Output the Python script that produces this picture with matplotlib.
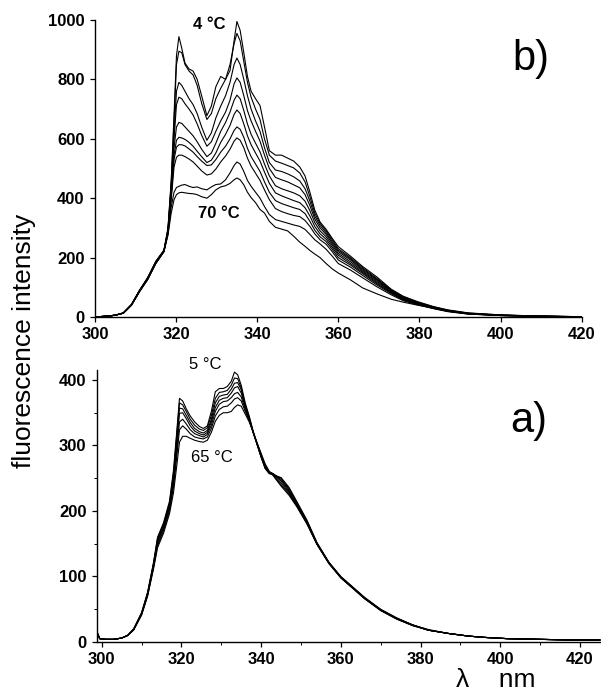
import matplotlib
matplotlib.use('Agg')
import matplotlib.pyplot as plt
from matplotlib.ticker import MultipleLocator

plt.rcParams['font.family'] = ['Liberation Sans', 'DejaVu Sans']

# Panel b): wavelength grid (nm) and spectra from 4 °C (top) to 70 °C (bottom)
wl_b = [300, 303, 305, 307, 309, 311, 313, 315, 317, 318,
        318.8, 319.5, 320.1, 320.7, 321.4, 322.2, 323.2, 324.2, 325.2, 326.3,
        327.6, 328.7, 329.8, 331, 332.2, 333.3, 334.3, 335, 335.8, 336.7,
        337.6, 338.5, 339.6, 340.7, 341.8, 343, 344.5, 346, 347.5, 349,
        350.5, 351.8, 353, 354.2, 355.5, 357, 358.5, 360, 363, 366,
        369.5, 373, 376, 379.5, 383.5, 387, 392, 400, 410, 420]

b_4C = [0, 3, 6, 14, 42, 90, 132, 188, 225, 300,
        460, 680, 880, 944, 905, 855, 835, 828, 800, 745,
        678, 710, 775, 810, 800, 830, 930, 995, 965, 890,
        810, 760, 735, 712, 640, 560, 545, 545, 535, 525,
        505, 475, 420, 360, 320, 295, 265, 237, 205, 170,
        135, 94, 70, 52, 35, 24, 14, 7, 3, 1]
b_t2 = [0, 3, 6, 13, 40, 88, 128, 185, 222, 295,
        450, 660, 850, 895, 890, 850, 828, 815, 780, 720,
        665, 685, 735, 770, 800, 850, 920, 955, 930, 860,
        790, 740, 700, 665, 600, 545, 525, 518, 510, 502,
        485, 455, 405, 350, 315, 290, 260, 230, 200, 166,
        130, 92, 68, 50, 34, 23, 13, 7, 3, 1]
b_t3 = [0, 3, 6, 13, 40, 86, 126, 182, 220, 290,
        440, 620, 760, 790, 780, 760, 735, 715, 685, 640,
        595, 620, 670, 710, 745, 790, 850, 872, 850, 800,
        745, 700, 660, 625, 570, 520, 495, 490, 482, 472,
        458, 432, 390, 340, 308, 284, 254, 225, 196, 162,
        127, 90, 66, 48, 33, 22, 12, 6, 3, 1]
b_t4 = [0, 3, 6, 14, 42, 90, 133, 186, 224, 292,
        430, 600, 715, 740, 735, 718, 700, 680, 650, 612,
        575, 590, 625, 660, 690, 730, 785, 805, 790, 745,
        695, 660, 625, 592, 545, 500, 470, 462, 455, 445,
        435, 412, 375, 330, 300, 278, 248, 220, 192, 158,
        124, 88, 64, 47, 32, 21, 12, 6, 3, 1]
b_t5 = [0, 3, 6, 13, 41, 88, 130, 184, 222, 288,
        420, 570, 640, 655, 652, 640, 625, 610, 590, 565,
        540, 552, 585, 625, 655, 690, 730, 747, 735, 695,
        650, 615, 585, 556, 515, 475, 442, 432, 425, 418,
        408, 390, 358, 318, 290, 270, 242, 214, 186, 154,
        120, 86, 62, 46, 31, 21, 11, 6, 2, 1]
b_t6 = [0, 3, 6, 13, 40, 86, 127, 180, 220, 285,
        410, 545, 595, 605, 603, 598, 588, 575, 558, 540,
        520, 528, 552, 588, 615, 645, 682, 697, 685, 650,
        610, 580, 552, 525, 488, 450, 418, 408, 400, 392,
        385, 368, 340, 305, 280, 262, 235, 208, 180, 150,
        116, 84, 60, 45, 30, 20, 11, 5, 2, 1]
b_t7 = [0, 3, 6, 14, 42, 90, 131, 185, 223, 286,
        405, 530, 572, 580, 580, 576, 566, 555, 540, 525,
        510, 512, 530, 555, 575, 600, 628, 640, 632, 605,
        568, 540, 515, 490, 455, 420, 392, 382, 375, 368,
        362, 348, 322, 292, 270, 254, 228, 200, 175, 146,
        112, 82, 59, 44, 30, 20, 11, 5, 2, 1]
b_t8 = [0, 3, 6, 13, 40, 87, 128, 182, 221, 283,
        395, 505, 538, 545, 545, 540, 532, 522, 508, 492,
        478, 482, 498, 522, 542, 565, 592, 603, 595, 570,
        535, 508, 484, 460, 428, 395, 365, 355, 348, 342,
        338, 325, 305, 280, 260, 245, 220, 192, 168, 140,
        108, 79, 57, 43, 29, 19, 10, 5, 2, 1]
b_t9 = [0, 3, 6, 13, 41, 88, 130, 184, 222, 280,
        370, 420, 436, 440, 444, 446, 440, 436, 438, 432,
        428, 438, 446, 448, 462, 485, 510, 522, 515, 490,
        460, 440, 420, 400, 372, 345, 328, 322, 316, 310,
        305, 295, 278, 260, 246, 228, 205, 180, 158, 132,
        102, 75, 55, 41, 28, 18, 10, 5, 2, 1]
b_70C = [0, 3, 6, 13, 40, 86, 127, 180, 220, 275,
         350, 395, 412, 418, 420, 418, 416, 415, 412, 405,
         400, 412, 428, 438, 442, 450, 462, 468, 462, 445,
         420, 402, 385, 362, 350, 322, 302, 296, 290, 272,
         252, 238, 224, 212, 200, 180, 162, 148, 125, 98,
         78, 60, 50, 40, 30, 21, 12, 6, 2, 1]
spectra_b = [b_4C, b_t2, b_t3, b_t4, b_t5, b_t6, b_t7, b_t8, b_t9, b_70C]

# Panel a): spectra from 5 °C (top) to 65 °C (bottom)
wl_a = [298.8, 299.5, 301, 303, 305, 306.5, 308, 310, 311.5, 313,
        314, 315.5, 317, 318, 318.8, 319.5, 320.3, 321.2, 322.2, 323.3,
        324.5, 325.5, 326.5, 327.5, 328.5, 329.5, 330.5, 331.5, 332.5, 333.3,
        334.1, 335, 336, 337, 338, 339, 340, 341, 342, 343,
        345, 347, 349, 351.5, 354, 357, 360, 363, 366, 370,
        374, 378, 382, 387, 392, 396, 402, 410, 418, 425]

a_5C = [16, 5, 4, 4, 6, 10, 20, 45, 76, 122,
        160, 182, 215, 262, 320, 372, 368, 356, 345, 336,
        329, 326, 330, 352, 382, 387, 387, 390, 398, 412,
        408, 392, 365, 345, 322, 302, 283, 265, 257, 255,
        251, 236, 214, 186, 152, 122, 100, 84, 68, 50,
        37, 26, 19, 13, 9, 7, 5, 4, 3, 3]
a_t2 = [15, 5, 4, 4, 6, 10, 20, 44, 75, 120,
        158, 180, 212, 258, 315, 365, 362, 352, 340, 331,
        325, 323, 327, 346, 372, 381, 382, 384, 392, 403,
        402, 388, 362, 343, 320, 301, 282, 265, 258, 256,
        250, 234, 212, 184, 150, 121, 99, 83, 67, 49,
        36, 26, 18, 13, 9, 7, 5, 4, 3, 3]
a_t3 = [15, 5, 4, 4, 6, 10, 19, 44, 74, 119,
        155, 178, 210, 252, 308, 357, 356, 346, 335, 326,
        321, 319, 323, 340, 365, 375, 377, 378, 386, 395,
        396, 385, 360, 342, 320, 301, 282, 266, 259, 257,
        248, 232, 211, 184, 151, 121, 99, 83, 67, 49,
        36, 26, 18, 13, 9, 7, 5, 4, 3, 3]
a_t4 = [14, 5, 4, 4, 6, 10, 19, 43, 73, 118,
        153, 176, 207, 248, 300, 349, 350, 341, 330, 322,
        318, 316, 320, 336, 358, 369, 372, 373, 380, 388,
        390, 380, 358, 341, 320, 302, 284, 268, 260, 257,
        246, 230, 209, 183, 150, 121, 99, 83, 67, 49,
        36, 26, 18, 13, 9, 7, 5, 4, 3, 3]
a_t5 = [14, 5, 4, 4, 6, 10, 19, 43, 72, 116,
        150, 173, 204, 243, 290, 336, 340, 333, 324, 318,
        315, 313, 317, 331, 352, 363, 367, 368, 373, 379,
        381, 374, 355, 340, 320, 302, 284, 268, 259, 256,
        243, 228, 208, 182, 150, 120, 98, 82, 66, 49,
        36, 26, 18, 13, 9, 7, 5, 4, 3, 3]
a_t6 = [13, 5, 4, 4, 6, 10, 19, 42, 71, 114,
        147, 170, 200, 237, 282, 324, 330, 325, 318, 313,
        311, 310, 313, 326, 345, 355, 359, 360, 365, 371,
        373, 368, 352, 338, 320, 303, 286, 270, 260, 255,
        240, 226, 207, 181, 149, 120, 98, 82, 66, 48,
        35, 25, 18, 13, 9, 7, 5, 4, 3, 3]
a_65C = [13, 5, 4, 4, 6, 10, 18, 41, 70, 112,
         144, 166, 196, 228, 268, 305, 314, 314, 311, 308,
         306, 305, 308, 320, 337, 346, 350, 350, 352, 358,
         362, 360, 348, 336, 320, 304, 288, 272, 261, 254,
         238, 224, 206, 180, 149, 120, 98, 82, 66, 48,
         35, 25, 18, 13, 9, 7, 5, 4, 3, 3]
spectra_a = [a_5C, a_t2, a_t3, a_t4, a_t5, a_t6, a_65C]

x_ticks = [300, 320, 340, 360, 380, 400, 420]
y_ticks_b = [0, 200, 400, 600, 800, 1000]
y_ticks_a = [0, 100, 200, 300, 400]


def style_axes(ax):
    """ Keep only the left and bottom spines, ticks pointing out """
    for side in ['top', 'right']:
        ax.spines[side].set_visible(False)
    for side in ['left', 'bottom']:
        ax.spines[side].set_linewidth(1.0)
    ax.tick_params(direction='out', length=3.5, width=0.9, pad=4, labelsize=12)
    ax.tick_params(which='minor', direction='out', length=2, width=0.7)
    for lab in ax.get_xticklabels() + ax.get_yticklabels():
        lab.set_fontweight('bold')


fig = plt.figure(figsize=(6.01, 6.92), dpi=100)

# Top panel b)
ax_b = fig.add_axes([0.158, 0.5419, 0.8098, 0.4292])
for spec in spectra_b:
    ax_b.plot(wl_b, spec, color='black', lw=0.8)
ax_b.set_xlim(300, 420)
ax_b.set_ylim(0, 1000)
ax_b.set_xticks(x_ticks)
ax_b.set_yticks(y_ticks_b)
style_axes(ax_b)
ax_b.text(328.2, 985, '4 °C', fontsize=12, fontweight='bold', ha='center', va='center')
ax_b.text(330.6, 348, '70 °C', fontsize=12, fontweight='bold', ha='center', va='center')
ax_b.text(407.5, 870, 'b)', fontsize=30, ha='center', va='center')

# Bottom panel a)
ax_a = fig.add_axes([0.1614, 0.0723, 0.8386, 0.3928])
for spec in spectra_a:
    ax_a.plot(wl_a, spec, color='black', lw=0.8)
ax_a.set_xlim(298.8, 425.3)
ax_a.set_ylim(0, 415)
ax_a.set_xticks(x_ticks)
ax_a.set_yticks(y_ticks_a)
ax_a.xaxis.set_minor_locator(MultipleLocator(10))
ax_a.yaxis.set_minor_locator(MultipleLocator(50))
style_axes(ax_a)
ax_a.text(325.9, 423, '5 °C', fontsize=12, ha='center', va='center', clip_on=False)
ax_a.text(327.6, 282, '65 °C', fontsize=12, ha='center', va='center')
ax_a.text(407.2, 338, 'a)', fontsize=30, ha='center', va='center')

fig.text(0.04, 0.508, 'fluorescence intensity', fontsize=19, rotation=90,
         ha='center', va='center')
fig.text(0.825, 0.017, 'λ    nm', fontsize=19, ha='center', va='center')

fig.savefig('out.png', dpi=100)
